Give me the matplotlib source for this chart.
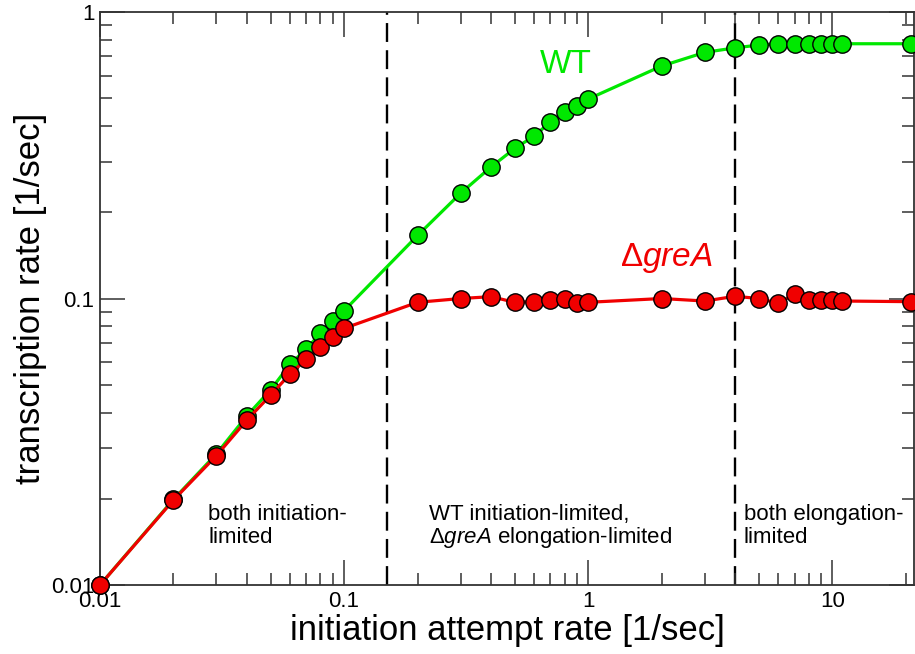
import matplotlib
matplotlib.use("Agg")
import matplotlib.pyplot as plt
from matplotlib.ticker import FixedLocator, FixedFormatter, LogLocator, NullFormatter

plt.rcParams['font.family'] = ['Liberation Sans', 'DejaVu Sans']
plt.rcParams['mathtext.fontset'] = 'custom'
plt.rcParams['mathtext.rm'] = 'Liberation Sans'
plt.rcParams['mathtext.it'] = 'Liberation Sans:italic'

# initiation attempt rate [1/sec]
rate = [0.01, 0.02, 0.03, 0.04, 0.05, 0.06, 0.07, 0.08, 0.09, 0.1,
        0.2, 0.3, 0.4, 0.5, 0.6, 0.7, 0.8, 0.9, 1,
        2, 3, 4, 5, 6, 7, 8, 9, 10, 11, 21]
# transcription rate [1/sec]
wt = [0.0100, 0.0199, 0.0287, 0.0390, 0.0480, 0.0589, 0.0667, 0.0756, 0.0832, 0.0907,
      0.166, 0.233, 0.288, 0.334, 0.369, 0.413, 0.447, 0.470, 0.497,
      0.648, 0.723, 0.750, 0.767, 0.775, 0.775, 0.775, 0.775, 0.775, 0.775, 0.775]
grea = [0.0100, 0.0198, 0.0283, 0.0377, 0.0460, 0.0545, 0.0614, 0.0679, 0.0732, 0.0787,
        0.0970, 0.1000, 0.1015, 0.0970, 0.0975, 0.0990, 0.0997, 0.0964, 0.0970,
        0.1000, 0.0980, 0.1018, 0.1000, 0.0963, 0.1034, 0.0986, 0.0987, 0.0986, 0.0980, 0.0975]
regime_bounds = [0.15, 4]
xticks = [0.01, 0.1, 1, 10]
xticklabels = ["0.01", "0.1", "1", "10"]
yticks = [0.01, 0.1, 1]
yticklabels = ["0.01", "0.1", "1"]

green = '#00e800'
red = '#f00000'

fig = plt.figure(figsize=(9.15, 6.54), dpi=100)
ax = fig.add_axes([0.1093, 0.1055, 0.8896, 0.8761])
ax.set_xscale('log')
ax.set_yscale('log')
ax.set_xlim(0.01, 21.6)
ax.set_ylim(0.01, 1)

for b in regime_bounds:
    ax.axvline(b, color='black', lw=1.7, dashes=(8, 3.5), zorder=1)

ax.plot(rate, wt, '-o', color=green, lw=2.3, ms=12.5, mfc=green, mec='black',
        mew=1.0, zorder=3, clip_on=False)
ax.plot(rate, grea, '-o', color=red, lw=2.3, ms=12.5, mfc=red, mec='black',
        mew=1.0, zorder=4, clip_on=False)

ax.xaxis.set_major_locator(FixedLocator(xticks))
ax.xaxis.set_major_formatter(FixedFormatter(xticklabels))
ax.yaxis.set_major_locator(FixedLocator(yticks))
ax.yaxis.set_major_formatter(FixedFormatter(yticklabels))
ax.xaxis.set_minor_locator(LogLocator(base=10, subs=range(2, 10), numticks=20))
ax.yaxis.set_minor_locator(LogLocator(base=10, subs=range(2, 10), numticks=20))
ax.xaxis.set_minor_formatter(NullFormatter())
ax.yaxis.set_minor_formatter(NullFormatter())

ax.tick_params(which='both', direction='in', top=True, right=True,
               width=1.1, color='#333333', labelsize=16)
ax.tick_params(which='major', length=18, pad=4)
ax.tick_params(which='minor', length=8.5)
for s in ax.spines.values():
    s.set_linewidth(1.3)
    s.set_color('#333333')

ax.set_xlabel("initiation attempt rate [1/sec]", fontsize=25, labelpad=2)
ax.set_ylabel("transcription rate [1/sec]", fontsize=25, labelpad=3)

ax.text(0.5405, 0.8935, "WT", color=green, fontsize=24, transform=ax.transAxes,
        ha='left', va='baseline')
ax.text(0.639, 0.5567, r"$\Delta\mathit{greA}$", color=red, fontsize=24,
        transform=ax.transAxes, ha='left', va='baseline')

ax.text(0.1327, 0.1134, "both initiation-", fontsize=16, transform=ax.transAxes,
        ha='left', va='baseline')
ax.text(0.1327, 0.0733, "limited", fontsize=16, transform=ax.transAxes,
        ha='left', va='baseline')
ax.text(0.404, 0.1134, "WT initiation-limited,", fontsize=16, transform=ax.transAxes,
        ha='left', va='baseline')
ax.text(0.404, 0.0733, r"$\Delta\mathit{greA}$ elongation-limited", fontsize=16,
        transform=ax.transAxes, ha='left', va='baseline')
ax.text(0.791, 0.1134, "both elongation-", fontsize=16, transform=ax.transAxes,
        ha='left', va='baseline')
ax.text(0.791, 0.0733, "limited", fontsize=16, transform=ax.transAxes,
        ha='left', va='baseline')

fig.savefig("out.png", dpi=100)
